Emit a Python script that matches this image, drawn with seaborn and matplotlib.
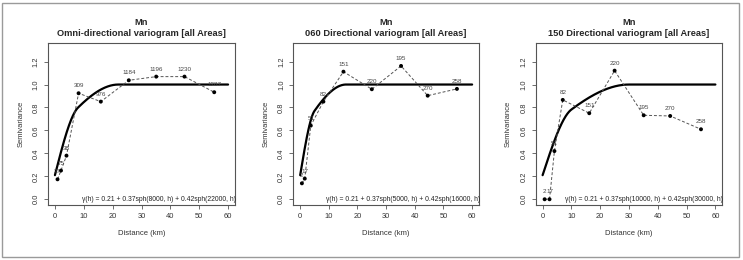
import numpy as np
import pandas as pd
import matplotlib
matplotlib.use("Agg")
import matplotlib.pyplot as plt
import seaborn as sns
from matplotlib.patches import Rectangle

sns.set_style("ticks")
plt.rcParams['font.family'] = ['Liberation Sans', 'DejaVu Sans']

# ---------------- data ----------------
titles = ["Omni-directional variogram [all Areas]",
          "060 Directional variogram [all Areas]",
          "150 Directional variogram [all Areas]"]
element = "Mn"

omni_dist = [0.9, 2.1, 4.0, 8.2, 15.9, 25.6, 35.1, 44.9, 55.2]
omni_gamma = [0.174, 0.25, 0.38, 0.924, 0.851, 1.037, 1.069, 1.069, 0.933]
omni_np = ["37", "75", "38", "309", "976", "1184", "1196", "1230", "1287"]

d060_dist = [0.6, 1.6, 3.7, 8.1, 15.1, 25.0, 35.2, 44.5, 54.7]
d060_gamma = [0.139, 0.18, 0.642, 0.851, 1.112, 0.959, 1.162, 0.903, 0.962]
d060_np = ["2", "17", "51", "82", "151", "220", "195", "270", "258"]

d150_dist = [0.7, 2.4, 4.1, 7.0, 16.2, 25.0, 35.1, 44.3, 55.0]
d150_gamma = [0.0, 0.0, 0.42, 0.866, 0.75, 1.121, 0.732, 0.726, 0.61]
d150_np = ["2", "17", "51", "82", "151", "220", "195", "270", "258"]

# nested spherical models: nugget, (sill1, range1 m), (sill2, range2 m)
nugget = [0.21, 0.21, 0.21]
sill1 = [0.37, 0.37, 0.37]
range1 = [8000, 5000, 10000]
sill2 = [0.42, 0.42, 0.42]
range2 = [22000, 16000, 30000]

x_ticks = [0, 10, 20, 30, 40, 50, 60]
y_ticks = [0.0, 0.2, 0.4, 0.6, 0.8, 1.0, 1.2]


def sph(a, h):
    r = np.clip(h / a, 0, 1)
    return 1.5 * r - 0.5 * r ** 3


fig = plt.figure(figsize=(7.43, 2.6), dpi=100)
fig.patches.append(Rectangle((0.003, 0.012), 0.992, 0.978, transform=fig.transFigure,
                             fill=False, edgecolor="#9a9a9a", linewidth=1.0))

lefts = [48 / 743, 293.3 / 743, 535.7 / 743]
widths = [187 / 743, 185.7 / 743, 186.6 / 743]
bottom = 1 - 205 / 260
height = 162 / 260

exps = [(omni_dist, omni_gamma, omni_np),
        (d060_dist, d060_gamma, d060_np),
        (d150_dist, d150_gamma, d150_np)]

for i in range(3):
    ax = fig.add_axes([lefts[i], bottom, widths[i], height])
    dist, gam, npairs = exps[i]
    df = pd.DataFrame({"dist": dist, "gamma": gam})

    # model curve
    h_km = np.linspace(0, 60, 601)
    model = nugget[i] + sill1[i] * sph(range1[i], h_km * 1000) + sill2[i] * sph(range2[i], h_km * 1000)
    mdf = pd.DataFrame({"h": h_km, "g": model})
    sns.lineplot(data=mdf, x="h", y="g", ax=ax, color="black", linewidth=1.6, zorder=2)

    # experimental variogram
    sns.lineplot(data=df, x="dist", y="gamma", ax=ax, color="#555555", linewidth=0.7,
                 dashes=False, zorder=3, estimator=None, sort=False).lines[-1].set_dashes([3, 2])
    sns.scatterplot(data=df, x="dist", y="gamma", ax=ax, color="black", s=8,
                    edgecolor="none", zorder=4)
    for xv, yv, lab in zip(dist, gam, npairs):
        ax.annotate(lab, (xv, yv), xytext=(0, 3.5), textcoords="offset points",
                    ha="center", va="bottom", fontsize=4.5, color="#444444", zorder=5)

    eq = (f"γ(h) = {nugget[i]:.2f} + {sill1[i]:.2f}sph({range1[i]}, h) + "
          f"{sill2[i]:.2f}sph({range2[i]}, h)")
    ax.text(1.005, 0.035, eq, transform=ax.transAxes, ha="right", va="center",
            fontsize=4.85, color="#222222", family=['Liberation Sans', 'DejaVu Sans'])

    ax.set_xlim(-2.4, 62.4)
    ax.set_ylim(-0.05, 1.362)
    ax.set_xticks(x_ticks)
    ax.set_xticklabels([str(t) for t in x_ticks], fontsize=5.4, color="#333333")
    ax.set_yticks(y_ticks)
    ax.set_yticklabels([f"{t:.1f}" for t in y_ticks], fontsize=5.4, color="#333333",
                       rotation=90, va="center")
    ax.tick_params(axis="both", length=3, width=0.6, color="#555555", pad=3)
    for sp in ax.spines.values():
        sp.set_visible(True)
        sp.set_color("#555555")
        sp.set_linewidth(0.8)
    ax.set_xlabel("Distance (km)", fontsize=5.5, color="#333333", labelpad=7)
    ax.set_ylabel("Semivariance", fontsize=5.5, color="#333333", labelpad=6)

    cx = lefts[i] + widths[i] / 2
    fig.text(cx, 1 - 22.7 / 260, element, ha="center", va="center",
             fontsize=6.7, fontweight="bold")
    fig.text(cx, 1 - 33.3 / 260, titles[i], ha="center", va="center",
             fontsize=6.7, fontweight="bold")

fig.savefig("out.png", dpi=100)
